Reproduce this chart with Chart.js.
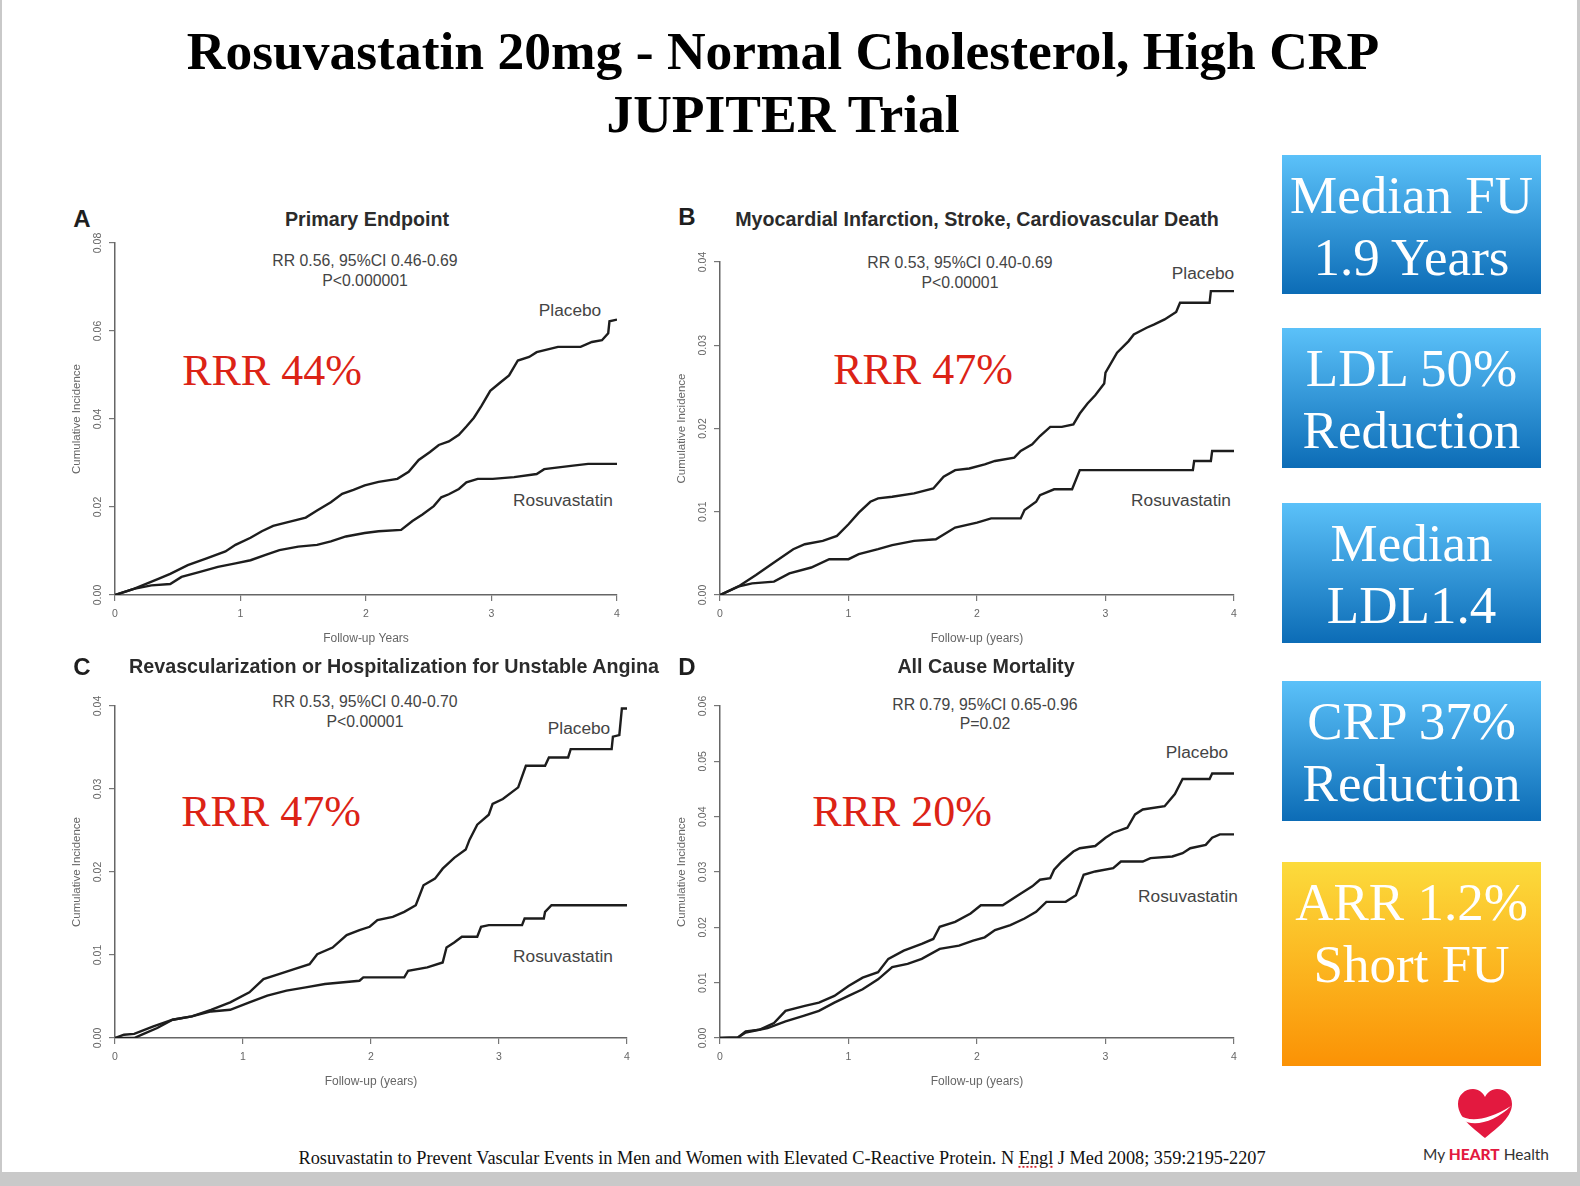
<!DOCTYPE html>
<html>
<head>
<meta charset="utf-8">
<script src="https://cdn.jsdelivr.net/npm/chart.js@4.4.0/dist/chart.umd.min.js"></script>
<style>
  html, body { margin: 0; padding: 0; }
  body { width: 1580px; height: 1186px; background: #c9c9c9; position: relative; overflow: hidden; font-family: "Liberation Sans", Arial, sans-serif; }
  #slide { position: absolute; left: 2px; top: 0; width: 1575px; height: 1172px; background: #fff; }
  .t { position: absolute; white-space: nowrap; transform: translate(-50%, -50%); line-height: 1; }
  .main-title { font-family: "Liberation Serif", "Times New Roman", serif; font-weight: bold; font-size: 53.5px; color: #000; }
  .letter { font-weight: bold; font-size: 24px; color: #1e1e1e; }
  .ptitle { font-weight: bold; font-size: 19.7px; color: #2b2b2b; }
  .rr { font-size: 15.8px; color: #444; }
  .lbl { font-size: 17.3px; color: #444; }
  .rrr { font-family: "Liberation Serif", "Times New Roman", serif; font-size: 44px; color: #dc2316; }
  canvas.panel { position: absolute; }
  .box { position: absolute; left: 1282px; width: 259px; color: #fff; text-align: center;
         font-family: "Liberation Serif", "Times New Roman", serif; font-size: 53px; line-height: 62px;
         padding-top: 9px; box-sizing: border-box; }
  .blue { background: linear-gradient(to bottom, #5bc1f9, #0c6cb6); }
  .orange { background: linear-gradient(to bottom, #fcdb3c, #fb9205); }
  .footer { font-family: "Liberation Serif", "Times New Roman", serif; font-size: 18.3px; color: #111; }
  .engl { text-decoration: underline dotted #d0212a; text-underline-offset: 3px; }
  .brand { font-family: Lato, "Open Sans", sans-serif; font-size: 15.5px; color: #333; }
  .brand b { color: #e3193f; font-weight: 900; }
</style>
</head>
<body>
<div id="slide"></div>

<div class="t main-title" style="left:783px; top:52px;">Rosuvastatin 20mg - Normal Cholesterol, High CRP</div>
<div class="t main-title" style="left:783px; top:115px;">JUPITER Trial</div>

<!-- panel A -->
<div class="t letter" style="left:82px; top:219px;">A</div>
<div class="t ptitle" style="left:367px; top:220px;">Primary Endpoint</div>
<div class="t rr" style="left:365px; top:261px;">RR 0.56, 95%CI 0.46-0.69</div>
<div class="t rr" style="left:365px; top:281px;">P&lt;0.000001</div>
<div class="t lbl" style="left:570px; top:311px;">Placebo</div>
<div class="t lbl" style="left:563px; top:501px;">Rosuvastatin</div>
<div class="t rrr" style="left:272px; top:371px;">RRR 44%</div>
<canvas class="panel" id="chartA"></canvas>

<!-- panel B -->
<div class="t letter" style="left:687px; top:217px;">B</div>
<div class="t ptitle" style="left:977px; top:220px;">Myocardial Infarction, Stroke, Cardiovascular Death</div>
<div class="t rr" style="left:960px; top:263px;">RR 0.53, 95%CI 0.40-0.69</div>
<div class="t rr" style="left:960px; top:283px;">P&lt;0.00001</div>
<div class="t lbl" style="left:1203px; top:274px;">Placebo</div>
<div class="t lbl" style="left:1181px; top:501px;">Rosuvastatin</div>
<div class="t rrr" style="left:923px; top:370px;">RRR 47%</div>
<canvas class="panel" id="chartB"></canvas>

<!-- panel C -->
<div class="t letter" style="left:82px; top:667px;">C</div>
<div class="t ptitle" style="left:394px; top:667px;">Revascularization or Hospitalization for Unstable Angina</div>
<div class="t rr" style="left:365px; top:702px;">RR 0.53, 95%CI 0.40-0.70</div>
<div class="t rr" style="left:365px; top:722px;">P&lt;0.00001</div>
<div class="t lbl" style="left:579px; top:729px;">Placebo</div>
<div class="t lbl" style="left:563px; top:957px;">Rosuvastatin</div>
<div class="t rrr" style="left:271px; top:812px;">RRR 47%</div>
<canvas class="panel" id="chartC"></canvas>

<!-- panel D -->
<div class="t letter" style="left:687px; top:667px;">D</div>
<div class="t ptitle" style="left:986px; top:667px;">All Cause Mortality</div>
<div class="t rr" style="left:985px; top:705px;">RR 0.79, 95%CI 0.65-0.96</div>
<div class="t rr" style="left:985px; top:724px;">P=0.02</div>
<div class="t lbl" style="left:1197px; top:753px;">Placebo</div>
<div class="t lbl" style="left:1188px; top:897px;">Rosuvastatin</div>
<div class="t rrr" style="left:902px; top:812px;">RRR 20%</div>
<canvas class="panel" id="chartD"></canvas>

<!-- side boxes -->
<div class="box blue" style="top:155px; height:139px;">Median FU<br>1.9 Years</div>
<div class="box blue" style="top:328px; height:140px;">LDL 50%<br>Reduction</div>
<div class="box blue" style="top:503px; height:140px;">Median<br>LDL1.4</div>
<div class="box blue" style="top:681px; height:140px;">CRP 37%<br>Reduction</div>
<div class="box orange" style="top:862px; height:204px;">ARR 1.2%<br>Short FU</div>

<div class="t footer" style="left:782px; top:1158px;">Rosuvastatin to Prevent Vascular Events in Men and Women with Elevated C-Reactive Protein. N <span class="engl">Engl</span> J Med 2008; 359:2195-2207</div>

<svg style="position:absolute; left:1455px; top:1088px;" width="60" height="52" viewBox="0 0 60 52">
  <path d="M30 50 C22 43 3 31 3 16 C3 7 10 1 18 1 C24 1 28 5 30 9 C32 5 36 1 42 1 C50 1 57 7 57 16 C57 31 38 43 30 50 Z" fill="#e3193f"/>
  <path d="M4 27 C14 34 32 33 56 18 C40 34 18 40 6 31 Z" fill="#fff"/>
</svg>
<div class="t brand" style="left:1486px; top:1155px;">My <b>HEART</b> Health</div>

<script>
// follow-up years / cumulative incidence
const seriesNames = ['Placebo', 'Rosuvastatin'];
const xTicks = [0, 1, 2, 3, 4];

// A - Primary Endpoint
const aPlaceboYears = [0, 0.15, 0.35, 0.44, 0.58, 0.73, 0.88, 0.96, 1.08, 1.17, 1.26, 1.37, 1.52, 1.61, 1.72, 1.81, 1.90, 1.99, 2.10, 2.25, 2.34, 2.42, 2.51, 2.58, 2.66, 2.74, 2.80, 2.86, 2.92, 2.99, 3.07, 3.14, 3.21, 3.30, 3.36, 3.53, 3.71, 3.80, 3.88, 3.93, 3.94, 4.0];
const aPlaceboInc   = [0, 0.0014, 0.0037, 0.0048, 0.0068, 0.0083, 0.0099, 0.0114, 0.0130, 0.0145, 0.0157, 0.0165, 0.0176, 0.0192, 0.0211, 0.0230, 0.0239, 0.0249, 0.0257, 0.0264, 0.0280, 0.0307, 0.0325, 0.0341, 0.0349, 0.0364, 0.0383, 0.0403, 0.0430, 0.0464, 0.0483, 0.0499, 0.0533, 0.0541, 0.0552, 0.0564, 0.0564, 0.0575, 0.0579, 0.0595, 0.0622, 0.0626];
const aRosuYears = [0, 0.15, 0.29, 0.44, 0.53, 0.67, 0.82, 0.96, 1.08, 1.20, 1.31, 1.46, 1.61, 1.72, 1.84, 1.99, 2.10, 2.28, 2.37, 2.45, 2.54, 2.60, 2.66, 2.74, 2.80, 2.89, 3.01, 3.18, 3.36, 3.42, 3.65, 3.77, 4.0];
const aRosuInc   = [0, 0.0014, 0.0022, 0.0025, 0.0041, 0.0052, 0.0064, 0.0072, 0.0079, 0.0091, 0.0102, 0.0110, 0.0114, 0.0122, 0.0133, 0.0141, 0.0145, 0.0148, 0.0168, 0.0183, 0.0202, 0.0222, 0.0229, 0.0241, 0.0256, 0.0264, 0.0264, 0.0268, 0.0275, 0.0286, 0.0294, 0.0298, 0.0298];

// B - MI, stroke, CV death
const bPlaceboYears = [0, 0.14, 0.28, 0.42, 0.57, 0.66, 0.80, 0.91, 1.00, 1.08, 1.17, 1.23, 1.34, 1.51, 1.66, 1.74, 1.83, 1.94, 2.06, 2.14, 2.29, 2.34, 2.43, 2.49, 2.57, 2.66, 2.75, 2.80, 2.86, 2.92, 2.99, 3.00, 3.09, 3.18, 3.22, 3.32, 3.38, 3.46, 3.55, 3.58, 3.81, 3.82, 4.0];
const bPlaceboInc   = [0, 0.0010, 0.0024, 0.0039, 0.0055, 0.0061, 0.0065, 0.0071, 0.0085, 0.0099, 0.0112, 0.0116, 0.0118, 0.0122, 0.0128, 0.0142, 0.0150, 0.0152, 0.0157, 0.0161, 0.0165, 0.0173, 0.0181, 0.0191, 0.0202, 0.0202, 0.0205, 0.0218, 0.0230, 0.0240, 0.0254, 0.0267, 0.0291, 0.0305, 0.0313, 0.0321, 0.0325, 0.0331, 0.0340, 0.0351, 0.0351, 0.0365, 0.0365];
const bRosuYears = [0, 0.14, 0.25, 0.42, 0.54, 0.71, 0.85, 1.00, 1.08, 1.23, 1.34, 1.51, 1.68, 1.83, 2.00, 2.11, 2.34, 2.37, 2.46, 2.49, 2.60, 2.74, 2.80, 3.68, 3.69, 3.82, 3.83, 4.0];
const bRosuInc   = [0, 0.0010, 0.0014, 0.0016, 0.0026, 0.0033, 0.0043, 0.0043, 0.0049, 0.0055, 0.0060, 0.0065, 0.0067, 0.0081, 0.0087, 0.0092, 0.0092, 0.0102, 0.0112, 0.0120, 0.0127, 0.0127, 0.0150, 0.0150, 0.0161, 0.0161, 0.0173, 0.0173];

// C - revascularization / unstable angina
const cPlaceboYears = [0, 0.07, 0.15, 0.30, 0.45, 0.60, 0.75, 0.90, 1.05, 1.16, 1.28, 1.40, 1.52, 1.58, 1.70, 1.81, 1.91, 1.99, 2.05, 2.17, 2.26, 2.35, 2.41, 2.50, 2.56, 2.65, 2.74, 2.77, 2.83, 2.92, 2.95, 3.03, 3.15, 3.21, 3.36, 3.39, 3.54, 3.56, 3.88, 3.89, 3.94, 3.96, 4.0];
const cPlaceboInc   = [0, 0.0004, 0.0005, 0.0014, 0.0022, 0.0026, 0.0034, 0.0043, 0.0055, 0.0071, 0.0077, 0.0083, 0.0089, 0.0101, 0.0109, 0.0124, 0.0130, 0.0134, 0.0142, 0.0146, 0.0152, 0.0160, 0.0184, 0.0192, 0.0204, 0.0217, 0.0227, 0.0239, 0.0257, 0.0269, 0.0282, 0.0288, 0.0302, 0.0328, 0.0328, 0.0338, 0.0338, 0.0348, 0.0348, 0.0363, 0.0365, 0.0397, 0.0397];
const cRosuYears = [0, 0.15, 0.21, 0.33, 0.45, 0.60, 0.75, 0.90, 1.05, 1.19, 1.34, 1.49, 1.64, 1.91, 1.94, 2.26, 2.29, 2.44, 2.56, 2.59, 2.65, 2.71, 2.83, 2.86, 2.92, 3.18, 3.20, 3.35, 3.36, 3.41, 4.0];
const cRosuInc   = [0, 0.0000, 0.0004, 0.0012, 0.0022, 0.0026, 0.0032, 0.0034, 0.0043, 0.0051, 0.0057, 0.0061, 0.0065, 0.0069, 0.0073, 0.0073, 0.0081, 0.0085, 0.0091, 0.0109, 0.0115, 0.0122, 0.0122, 0.0134, 0.0136, 0.0136, 0.0144, 0.0144, 0.0152, 0.0160, 0.0160];

// D - all cause mortality
const dPlaceboYears = [0, 0.14, 0.20, 0.31, 0.42, 0.51, 0.66, 0.77, 0.89, 1.00, 1.11, 1.23, 1.31, 1.43, 1.57, 1.66, 1.71, 1.83, 1.95, 2.03, 2.20, 2.32, 2.43, 2.49, 2.57, 2.60, 2.66, 2.75, 2.80, 2.92, 3.00, 3.06, 3.17, 3.23, 3.29, 3.46, 3.54, 3.60, 3.81, 3.83, 4.0];
const dPlaceboInc   = [0, 0.0001, 0.0012, 0.0015, 0.0027, 0.0049, 0.0058, 0.0064, 0.0076, 0.0094, 0.0109, 0.0119, 0.0143, 0.0158, 0.0170, 0.0179, 0.0201, 0.0210, 0.0225, 0.0240, 0.0240, 0.0258, 0.0274, 0.0286, 0.0289, 0.0304, 0.0319, 0.0337, 0.0343, 0.0347, 0.0362, 0.0371, 0.0380, 0.0404, 0.0413, 0.0419, 0.0441, 0.0468, 0.0468, 0.0478, 0.0478];
const dRosuYears = [0, 0.14, 0.20, 0.37, 0.51, 0.65, 0.77, 0.89, 1.00, 1.11, 1.23, 1.34, 1.46, 1.57, 1.71, 1.86, 1.97, 2.06, 2.14, 2.26, 2.37, 2.46, 2.54, 2.69, 2.77, 2.83, 2.92, 3.06, 3.12, 3.29, 3.35, 3.52, 3.60, 3.66, 3.78, 3.83, 3.89, 4.0];
const dRosuInc   = [0, 0.0001, 0.0010, 0.0018, 0.0030, 0.0040, 0.0049, 0.0064, 0.0076, 0.0088, 0.0106, 0.0128, 0.0134, 0.0143, 0.0161, 0.0167, 0.0176, 0.0182, 0.0195, 0.0204, 0.0216, 0.0228, 0.0246, 0.0246, 0.0258, 0.0295, 0.0301, 0.0307, 0.0319, 0.0319, 0.0325, 0.0328, 0.0334, 0.0343, 0.0349, 0.0362, 0.0368, 0.0368];

const zip = (xs, ys) => xs.map((x, i) => ({ x: x, y: ys[i] }));

// R style y labels, read bottom to top
const rotatedYTicks = {
    id: 'rotatedYTicks',
    afterDraw(chart) {
        const ys = chart.scales.y;
        const ctx = chart.ctx;
        ctx.save();
        ctx.fillStyle = '#666';
        ctx.font = '10.5px "Liberation Sans", Arial, sans-serif';
        ctx.textAlign = 'center';
        ctx.textBaseline = 'middle';
        ys.ticks.forEach(t => {
            const py = ys.getPixelForValue(t.value);
            ctx.save();
            ctx.translate(ys.right - 17, py);
            ctx.rotate(-Math.PI / 2);
            ctx.fillText(t.value.toFixed(2), 0, 0);
            ctx.restore();
        });
        ctx.restore();
    }
};

const Y_BOX = 55, X_BOX = 62, PAD_TOP = 12, PAD_RIGHT = 14;

function makePanel(id, area, yMax, yStep, xTitle, placebo, rosu) {
    const cv = document.getElementById(id);
    const w = area.r - area.l + Y_BOX + PAD_RIGHT;
    const h = area.b - area.t + PAD_TOP + X_BOX;
    cv.width = w;
    cv.height = h;
    cv.style.left = (area.l - Y_BOX) + 'px';
    cv.style.top = (area.t - PAD_TOP) + 'px';
    cv.style.width = w + 'px';
    cv.style.height = h + 'px';

    const axisGrid = { display: true, drawOnChartArea: false, drawTicks: true, tickLength: 6, color: '#777', lineWidth: 1.2 };
    const axisBorder = { display: true, color: '#666', width: 1.5 };

    return new Chart(cv.getContext('2d'), {
        type: 'line',
        data: {
            datasets: [
                { label: seriesNames[0], data: placebo },
                { label: seriesNames[1], data: rosu }
            ]
        },
        options: {
            responsive: false,
            animation: false,
            layout: { padding: { top: PAD_TOP, right: PAD_RIGHT, left: 0, bottom: 0 } },
            plugins: { legend: { display: false }, tooltip: { enabled: false } },
            elements: {
                point: { radius: 0 },
                line: { borderWidth: 2.4, borderColor: '#1d1d1d', tension: 0, fill: false }
            },
            scales: {
                x: {
                    type: 'linear', min: 0, max: 4,
                    afterBuildTicks: s => { s.ticks = xTicks.map(v => ({ value: v })); },
                    ticks: { color: '#666', padding: 7, font: { size: 10.5 }, maxRotation: 0 },
                    grid: axisGrid,
                    border: axisBorder,
                    title: { display: true, text: xTitle, color: '#666', font: { size: 12 }, padding: { top: 0, bottom: 11 } },
                    afterFit: s => { s.height = X_BOX; }
                },
                y: {
                    type: 'linear', min: 0, max: yMax,
                    ticks: { stepSize: yStep, display: false },
                    grid: axisGrid,
                    border: axisBorder,
                    title: { display: true, text: 'Cumulative Incidence', color: '#666', font: { size: 11.5 }, padding: { top: 10, bottom: 0 } },
                    afterFit: s => { s.width = Y_BOX; }
                }
            }
        },
        plugins: [rotatedYTicks]
    });
}

makePanel('chartA', { l: 115, r: 617, t: 243, b: 595 }, 0.08, 0.02, 'Follow-up Years',
    zip(aPlaceboYears, aPlaceboInc), zip(aRosuYears, aRosuInc));
makePanel('chartB', { l: 720, r: 1234, t: 262, b: 595 }, 0.04, 0.01, 'Follow-up (years)',
    zip(bPlaceboYears, bPlaceboInc), zip(bRosuYears, bRosuInc));
makePanel('chartC', { l: 115, r: 627, t: 706, b: 1038 }, 0.04, 0.01, 'Follow-up (years)',
    zip(cPlaceboYears, cPlaceboInc), zip(cRosuYears, cRosuInc));
makePanel('chartD', { l: 720, r: 1234, t: 706, b: 1038 }, 0.06, 0.01, 'Follow-up (years)',
    zip(dPlaceboYears, dPlaceboInc), zip(dRosuYears, dRosuInc));
</script>
</body>
</html>
